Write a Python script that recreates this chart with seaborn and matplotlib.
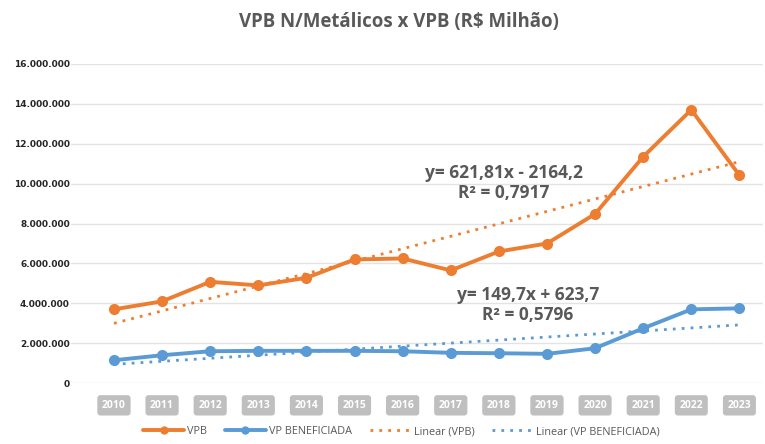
import numpy as np
import pandas as pd
import seaborn as sns
import matplotlib.pyplot as plt
from matplotlib.lines import Line2D
from matplotlib.ticker import FuncFormatter

years = [2010, 2011, 2012, 2013, 2014, 2015, 2016, 2017, 2018, 2019, 2020, 2021, 2022, 2023]
vpb = [3.70, 4.10, 5.08, 4.90, 5.28, 6.20, 6.25, 5.65, 6.60, 7.00, 8.48, 11.35, 13.70, 10.42]
vp_benef = [1.15, 1.40, 1.60, 1.62, 1.62, 1.62, 1.60, 1.52, 1.50, 1.47, 1.75, 2.75, 3.70, 3.75]
eq_vpb = "y= 621,81x - 2164,2\nR² = 0,7917"
eq_benef = "y= 149,7x + 623,7\nR² = 0,5796"

ORANGE = "#ED7D31"
BLUE = "#5B9BD5"
GRAY = "#595959"

sns.set_theme(style="white")
plt.rcParams["font.family"] = ["Open Sans", "DejaVu Sans"]

pos = np.arange(len(years))
df = pd.DataFrame({
    "pos": np.concatenate([pos, pos]),
    "valor": np.array(vpb + vp_benef) * 1e6,
    "serie": ["VPB"] * len(years) + ["VP BENEFICIADA"] * len(years),
})

fig = plt.figure(figsize=(7.65, 4.44), dpi=100)
ax = fig.add_axes([0.093, 0.137, 0.905, 0.719])

# trend lines
for name, col in [("VPB", ORANGE), ("VP BENEFICIADA", BLUE)]:
    sub = df[df.serie == name]
    sns.regplot(data=sub, x="pos", y="valor", ax=ax, scatter=False, ci=None,
                truncate=True, line_kws=dict(color=col, lw=2, ls=(0, (1, 2.2))))

sns.lineplot(data=df, x="pos", y="valor", hue="serie",
             palette={"VPB": ORANGE, "VP BENEFICIADA": BLUE},
             marker="o", markersize=8, markeredgewidth=0, lw=2.8, ax=ax, legend=False)

ax.set_ylim(0, 16e6)
ax.set_xlim(-0.89, 13.5)
ax.set_yticks(np.arange(0, 16.1e6, 2e6))
ax.yaxis.set_major_formatter(FuncFormatter(lambda v, p: f"{int(v):,}".replace(",", ".")))
ax.grid(axis="y", color="#E3E3E3", lw=1)
ax.set_axisbelow(True)
for s in ax.spines.values():
    s.set_visible(False)
ax.set_xlabel("")
ax.set_ylabel("")
ax.tick_params(axis="y", length=0, pad=1)
for t in ax.get_yticklabels():
    t.set_fontweight("bold")
    t.set_fontsize(6.5)
    t.set_color("#262626")
    t.set_family(["DejaVu Sans"])

ax.set_xticks(pos)
ax.set_xticklabels([str(y) for y in years])
ax.tick_params(axis="x", length=0, pad=12)
for t in ax.get_xticklabels():
    t.set_fontweight("bold")
    t.set_fontsize(7.5)
    t.set_color("white")
    t.set_bbox(dict(boxstyle="round,pad=0.45,rounding_size=0.3", fc="#BFBFBF", ec="none"))

ax.text(8.1, 10.05e6, eq_vpb, ha="center", va="center", fontsize=12.5,
        fontweight="bold", color=GRAY, linespacing=1.15)
ax.text(8.6, 3.9e6, eq_benef, ha="center", va="center", fontsize=12.5,
        fontweight="bold", color=GRAY, linespacing=1.15)

fig.text(0.522, 0.95, "VPB N/Metálicos x VPB (R$ Milhão)", ha="center", va="center",
         fontsize=13.4, fontweight="bold", color=GRAY)

handles = [
    Line2D([], [], color=ORANGE, lw=2.8, marker="o", markersize=6, markeredgewidth=0),
    Line2D([], [], color=BLUE, lw=2.8, marker="o", markersize=6, markeredgewidth=0),
    Line2D([], [], color=ORANGE, lw=2, ls=(0, (1, 2.2))),
    Line2D([], [], color=BLUE, lw=2, ls=(0, (1, 2.2))),
]
labels = ["VPB", "VP BENEFICIADA", "Linear (VPB)", "Linear (VP BENEFICIADA)"]
leg = fig.legend(handles, labels, loc="center", bbox_to_anchor=(0.525, 0.028), ncol=4,
                 frameon=False, fontsize=7.8, handlelength=3.8, handletextpad=0.3,
                 columnspacing=1.6)
for t in leg.get_texts():
    t.set_color(GRAY)

fig.savefig("out.png", dpi=100)
